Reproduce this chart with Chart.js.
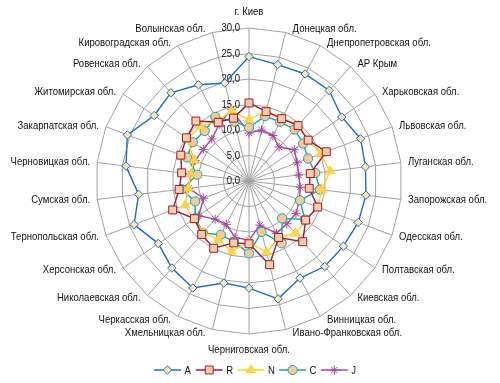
<!DOCTYPE html>
<html><head><meta charset="utf-8">
<script src="https://cdn.jsdelivr.net/npm/chart.js@4/dist/chart.umd.min.js"></script>
<style>html,body{margin:0;padding:0;background:#fff}</style>
</head><body>
<canvas id="c" width="500" height="383"></canvas>
<script>
const categories = ['г. Киев','Донецкая обл.','Днепропетровская обл.','АР Крым','Харьковская обл.','Львовская обл.','Луганская обл.','Запорожская обл.','Одесская обл.','Полтавская обл.','Киевская обл.','Винницкая обл.','Ивано-Франковская обл.','Черниговская обл.','Хмельницкая обл.','Черкасская обл.','Николаевская обл.','Херсонская обл.','Тернопольская обл.','Сумская обл.','Черновицкая обл.','Закарпатская обл.','Житомирская обл.','Ровенская обл.','Кировоградская обл.','Волынская обл.'];
const seriesNames = ['A','R','N','C','J'];
const valuesA = [24.4,23.5,23.7,23.7,22.1,23.4,23.0,23.1,22.9,22.5,22.4,21.5,23.8,21.0,20.6,23.7,22.8,21.6,24.1,21.8,24.3,25.5,22.6,23.1,21.3,19.8];
const valuesR = [15.3,14.0,13.8,14.5,14.1,16.2,12.1,11.9,14.4,13.5,15.9,12.5,16.9,12.3,12.5,14.9,14.0,13.0,16.0,13.8,13.3,14.3,14.9,15.7,13.0,12.7];
const valuesN = [12.0,14.2,13.9,14.6,14.1,15.0,16.0,14.4,14.4,13.6,13.7,12.5,14.4,12.0,14.2,13.0,13.5,13.2,13.4,12.0,11.5,11.5,14.7,14.3,13.3,14.2];
const valuesC = [10.5,13.1,13.1,13.5,12.9,12.4,13.1,14.0,10.7,13.3,9.8,13.8,10.3,14.2,12.3,11.9,13.6,12.8,11.3,13.3,10.2,13.0,13.4,13.1,14.2,12.0];
const valuesJ = [9.4,10.3,10.1,8.9,10.8,10.1,9.8,10.1,10.6,11.2,11.2,11.6,8.9,11.6,11.4,9.6,10.0,12.0,9.5,11.9,11.5,11.3,10.9,11.0,12.6,14.5];
const tickLabels = ['0,0','5,0','10,0','15,0','20,0','25,0','30,0'];

const FONT = "'Liberation Sans',Arial,sans-serif";
const FSIZE = 11.5, SX = 0.83;
const TEXT = '#111';
const styles = [
  {line:'#1b6ec2', fill:'#fbe6b4', pt:'rectRot', r:4.2},
  {line:'#a3173d', fill:'#f9cfa6', pt:'rect', r:5.6},
  {line:'#ffd21e', fill:'#ffd35a', pt:'triangle', r:5.2},
  {line:'#17a89b', fill:'#f7c9a0', pt:'circle', r:4.6},
  {line:'#a4479f', fill:'#a4479f', pt:'star', r:4.5}
];
const seriesValues = [valuesA, valuesR, valuesN, valuesC, valuesJ];

function narrowText(ctx, txt, x, y, align){
  ctx.save();
  ctx.translate(x, y);
  ctx.scale(SX, 1);
  ctx.textAlign = align;
  ctx.fillText(txt, 0, 0);
  ctx.restore();
}

const textPlugin = {
  id:'axisText',
  beforeDatasetsDraw(chart){
    const s = chart.scales.r, ctx = chart.ctx;
    ctx.save();
    ctx.font = FSIZE + 'px ' + FONT;
    ctx.fillStyle = TEXT;
    ctx.textBaseline = 'middle';
    s.ticks.forEach(t => {
      const y = s.yCenter - s.getDistanceFromCenterForValue(t.value);
      narrowText(ctx, t.label, s.xCenter - 9, y, 'right');
    });
    const R = s.drawingArea;
    chart.data.labels.forEach((lab, i) => {
      const p = s.getPointPosition(i, R);
      const dx = p.x - s.xCenter, dy = p.y - s.yCenter;
      const ang = Math.atan2(dx, -dy);
      if (Math.abs(dx) < 1) {
        narrowText(ctx, lab, p.x, p.y + (dy < 0 ? -16 : 16), 'center');
      } else {
        const yo = -3.5 * Math.cos(ang);
        narrowText(ctx, lab, p.x + (dx > 0 ? 7 : -7), p.y + yo, dx > 0 ? 'left' : 'right');
      }
    });
    ctx.restore();
  }
};
const legendPlugin = {
  id:'lineLegend',
  afterDraw(chart){
    const ctx = chart.ctx;
    const y = 370, x0 = 154, pitch = 41.7;
    ctx.save();
    chart.data.datasets.forEach((ds, i) => {
      const x = x0 + i*pitch;
      ctx.strokeStyle = ds.borderColor; ctx.lineWidth = 1.5;
      ctx.beginPath(); ctx.moveTo(x, y); ctx.lineTo(x+27, y); ctx.stroke();
      ctx.fillStyle = ds.pointBackgroundColor; ctx.strokeStyle = ds.pointBorderColor; ctx.lineWidth = 1;
      Chart.helpers.drawPoint(ctx, {pointStyle: ds.pointStyle, radius: ds.pointRadius, rotation:0, borderWidth:1}, x+13.5, y);
      ctx.fillStyle = TEXT; ctx.font = FSIZE + 'px ' + FONT; ctx.textBaseline='middle';
      narrowText(ctx, ds.label, x+30.5, y+1, 'left');
    });
    ctx.restore();
  }
};

new Chart(document.getElementById('c'), {
  type:'radar',
  data:{
    labels: categories,
    datasets: seriesNames.map((n,i)=>({
      label:n, data: seriesValues[i],
      borderColor: styles[i].line, backgroundColor:'transparent', fill:false,
      borderWidth:1.4, tension:0,
      pointStyle: styles[i].pt, pointRadius: styles[i].r, pointHoverRadius: styles[i].r,
      pointBackgroundColor: styles[i].fill, pointBorderColor: styles[i].line, pointBorderWidth:1
    }))
  },
  options:{
    responsive:false, animation:false,
    layout:{padding:{top:28,bottom:49,left:0,right:2}},
    plugins:{legend:{display:false}, tooltip:{enabled:false}},
    scales:{r:{
      min:0, max:30,
      ticks:{stepSize:5, display:false, callback:(v,i)=>tickLabels[i]},
      grid:{color:'#a0a0a0', lineWidth:1, circular:false},
      angleLines:{color:'#a0a0a0', lineWidth:1},
      pointLabels:{display:false}
    }}
  },
  plugins:[textPlugin, legendPlugin]
});
</script>
</body></html>
